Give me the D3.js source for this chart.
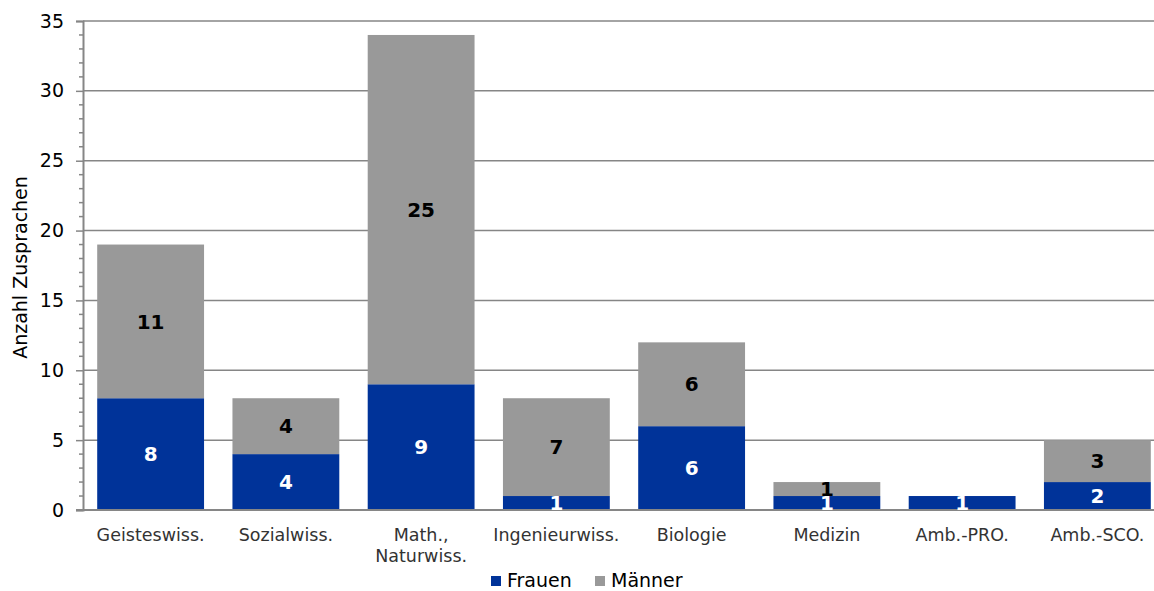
<!DOCTYPE html>
<html>
<head>
<meta charset="utf-8">
<script src="https://cdn.jsdelivr.net/npm/d3@7/dist/d3.min.js"></script>
<style>
  html, body { margin: 0; padding: 0; background: #fff; }
  svg { display: block; font-family: "DejaVu Sans", Verdana, sans-serif; }
</style>
</head>
<body>
<svg id="chart" width="1154" height="591"></svg>
<script>
const categories = ["Geisteswiss.", "Sozialwiss.", "Math.,\nNaturwiss.", "Ingenieurwiss.", "Biologie", "Medizin", "Amb.-PRO.", "Amb.-SCO."];
const frauen = [8, 4, 9, 1, 6, 1, 1, 2];
const maenner = [11, 4, 25, 7, 6, 1, 0, 3];
const seriesNames = ["Frauen", "Männer"];
const seriesColors = ["#003399", "#999999"];
const labelColors = ["#ffffff", "#000000"];
const yTicks = [0, 5, 10, 15, 20, 25, 30, 35];
const yTitle = "Anzahl Zusprachen";

(function () {
const svg = d3.select("#chart");
const pLeft = 83, pRight = 1165, pTop = 21, pBottom = 510;

const x = d3.scaleBand().domain(categories).range([pLeft, pRight]).paddingInner(0.21).paddingOuter(0.105);
const y = d3.scaleLinear().domain([0, 35]).range([pBottom, pTop]);

// gridlines
svg.append("g").selectAll("line").data(yTicks.filter(d => d > 0)).join("line")
  .attr("x1", pLeft).attr("x2", 1154)
  .attr("y1", d => y(d)).attr("y2", d => y(d))
  .attr("stroke", "#868686").attr("stroke-width", 1.5);

// stacked data
const rows = categories.map((c, i) => ({cat: c, Frauen: frauen[i], "Männer": maenner[i]}));
const stack = d3.stack().keys(seriesNames)(rows);

const layers = svg.append("g").selectAll("g").data(stack).join("g")
  .attr("fill", (d, i) => seriesColors[i]);
layers.selectAll("rect").data(d => d).join("rect")
  .attr("x", d => x(d.data.cat))
  .attr("width", x.bandwidth())
  .attr("y", d => y(d[1]))
  .attr("height", d => y(d[0]) - y(d[1]));

// y axis
const yAxis = d3.axisLeft(y).tickValues(yTicks).tickSize(7).tickPadding(12);
const gy = svg.append("g").attr("transform", `translate(${pLeft},0)`).call(yAxis);
gy.select(".domain").attr("stroke", "#868686").attr("stroke-width", 2);
gy.selectAll(".tick line").attr("stroke", "#868686").attr("stroke-width", 1.5);
gy.selectAll(".tick text").attr("font-size", 19).attr("fill", "#000")
  .attr("font-family", "DejaVu Sans, Verdana, sans-serif");

// minor ticks
const minor = d3.range(0, 36).filter(v => v % 5 !== 0);
svg.append("g").selectAll("line").data(minor).join("line")
  .attr("x1", pLeft - 4).attr("x2", pLeft)
  .attr("y1", d => y(d)).attr("y2", d => y(d))
  .attr("stroke", "#868686").attr("stroke-width", 1.5);

// x axis baseline
svg.append("line").attr("x1", pLeft - 7).attr("x2", 1154)
  .attr("y1", y(0)).attr("y2", y(0))
  .attr("stroke", "#868686").attr("stroke-width", 2);

// category labels
const catG = svg.append("g").selectAll("text").data(categories).join("text")
  .attr("x", d => x(d) + x.bandwidth() / 2)
  .attr("y", 541)
  .attr("text-anchor", "middle")
  .attr("font-size", 17.5)
  .attr("fill", "#333");
catG.selectAll("tspan").data(d => d.split("\n")).join("tspan")
  .attr("x", function() { return d3.select(this.parentNode).attr("x"); })
  .attr("dy", (d, i) => i === 0 ? 0 : 21)
  .text(d => d);

// value labels
stack.forEach((layer, si) => {
  svg.append("g").selectAll("text").data(layer.filter(d => d[1] - d[0] > 0)).join("text")
    .attr("x", d => x(d.data.cat) + x.bandwidth() / 2)
    .attr("y", d => y((d[0] + d[1]) / 2))
    .attr("dy", "0.36em")
    .attr("text-anchor", "middle")
    .attr("font-size", 20)
    .attr("font-weight", "bold")
    .attr("fill", labelColors[si])
    .text(d => d[1] - d[0]);
});

// y title
svg.append("text")
  .attr("transform", `translate(27,${(pTop + pBottom) / 2 + 2}) rotate(-90)`)
  .attr("text-anchor", "middle")
  .attr("font-size", 19)
  .attr("fill", "#000")
  .text(yTitle);

// legend
const legendX = [491, 595];
const lg = svg.append("g").selectAll("g").data(seriesNames).join("g")
  .attr("transform", (d, i) => `translate(${legendX[i]},576)`);
lg.append("rect").attr("width", 10).attr("height", 10).attr("fill", (d, i) => seriesColors[i]);
lg.append("text").attr("x", 16).attr("y", 11).attr("font-size", 19).attr("fill", "#000").text(d => d);
})();
</script>
</body>
</html>
